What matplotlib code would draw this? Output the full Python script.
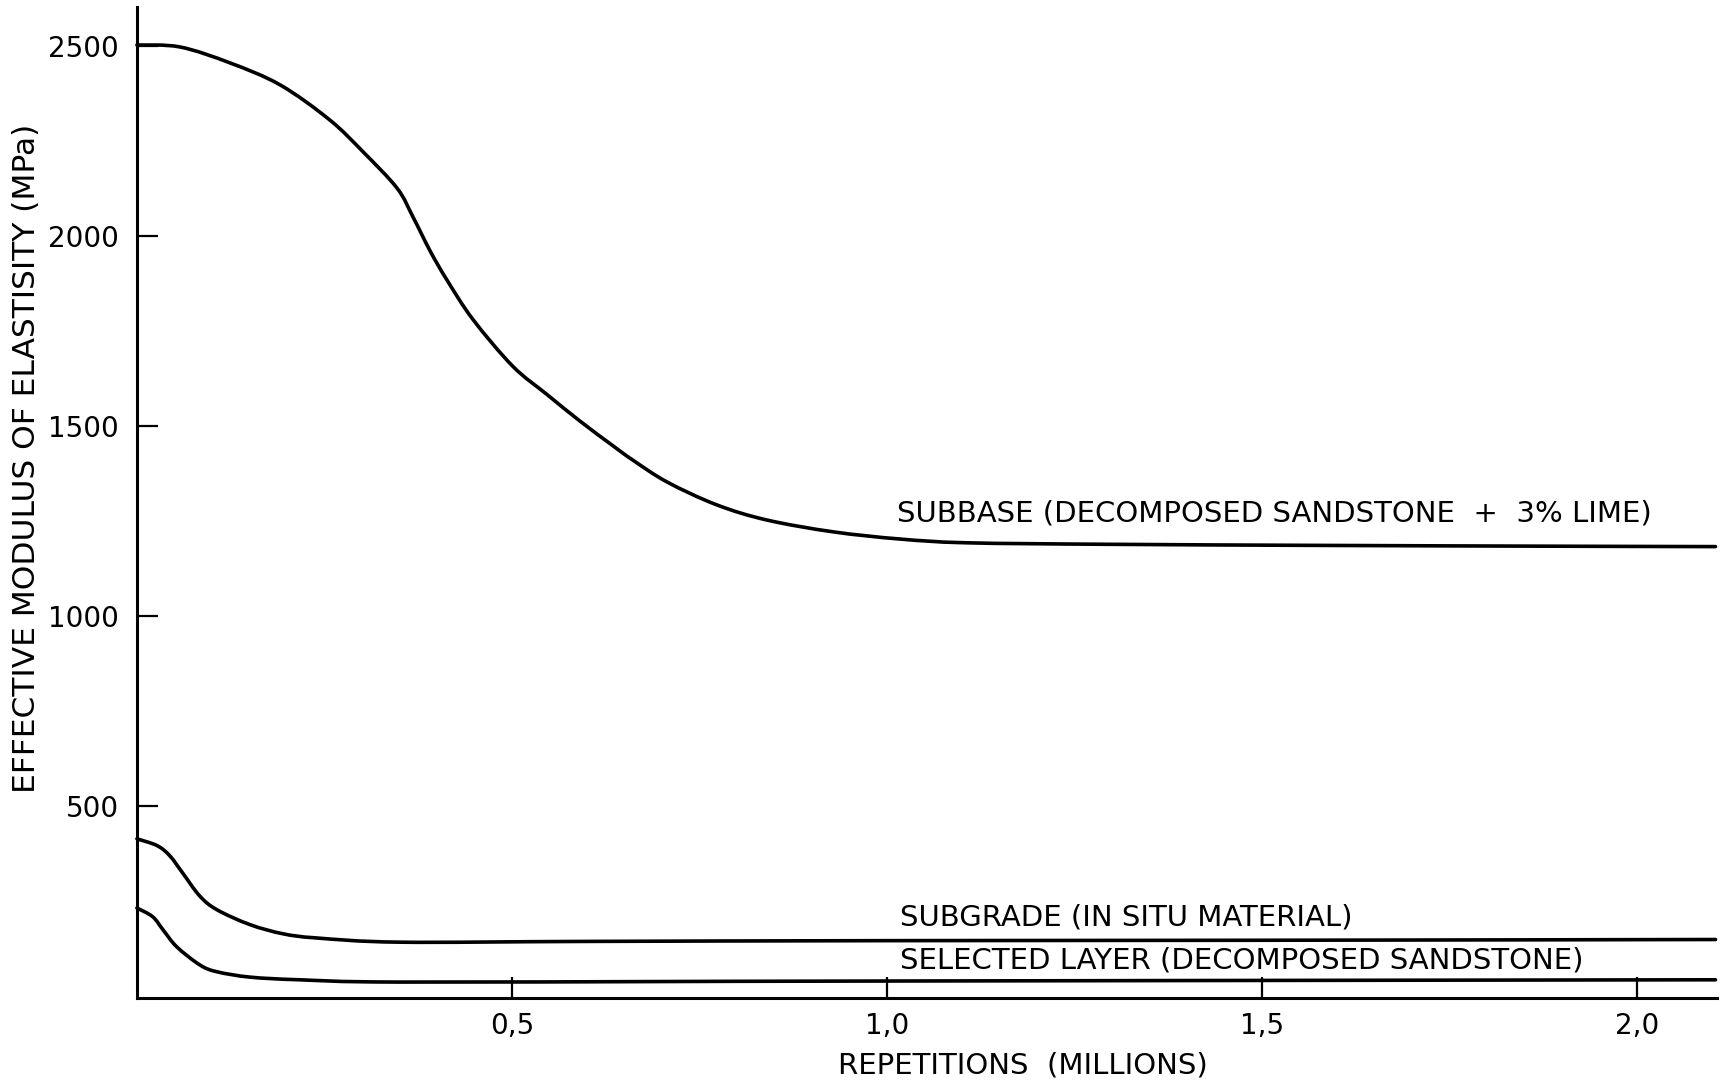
import matplotlib
matplotlib.use("Agg")
import matplotlib.pyplot as plt
import numpy as np
from matplotlib.path import Path
from matplotlib.patches import PathPatch

# Repetitions (millions) and effective modulus (MPa) for each pavement layer
subbase_x = [0.0, 0.057, 0.124, 0.191, 0.257, 0.302, 0.347, 0.368, 0.391, 0.413,
             0.448, 0.501, 0.547, 0.591, 0.635, 0.661, 0.707, 0.773, 0.840, 0.928,
             1.017, 1.107, 1.30, 1.60, 1.90, 2.105]
subbase_e = [2502, 2497, 2455, 2397, 2305, 2220, 2125, 2050, 1960, 1885,
             1780, 1657, 1582, 1512, 1447, 1410, 1352, 1292, 1252, 1221,
             1202, 1192, 1188, 1185, 1183, 1182]

subgrade_x = [0.0, 0.027, 0.044, 0.061, 0.084, 0.107, 0.151, 0.195, 0.24, 0.35,
              0.6, 1.0, 1.5, 2.105]
subgrade_e = [413, 395, 368, 323, 262, 226, 187, 163, 152, 141,
              143, 145, 146, 148]

selected_x = [0.0, 0.021, 0.035, 0.053, 0.084, 0.107, 0.151, 0.217, 0.35,
              0.8, 1.4, 2.105]
selected_e = [231, 208, 173, 129, 81, 63, 49, 42, 36, 38, 40, 42]

x_ticks = [0.5, 1.0, 1.5, 2.0]
x_tick_labels = ["0,5", "1,0", "1,5", "2,0"]
y_ticks = [500, 1000, 1500, 2000, 2500]
y_tick_labels = ["500", "1000", "1500", "2000", "2500"]

label_subbase = "SUBBASE (DECOMPOSED SANDSTONE  +  3% LIME)"
label_subgrade = "SUBGRADE (IN SITU MATERIAL)"
label_selected = "SELECTED LAYER (DECOMPOSED SANDSTONE)"

plt.rcParams["font.family"] = ["DejaVu Sans"]


def smooth_path(xs, ys):
    """Catmull-Rom curve through the points, expressed as cubic Bezier segments."""
    p = np.column_stack([xs, ys]).astype(float)
    ext = np.vstack([p[0], p, p[-1]])
    verts = [tuple(p[0])]
    codes = [Path.MOVETO]
    for i in range(1, len(ext) - 2):
        p0, p1, p2, p3 = ext[i - 1], ext[i], ext[i + 1], ext[i + 2]
        c1 = p1 + (p2 - p0) / 6.0
        c2 = p2 - (p3 - p1) / 6.0
        verts += [tuple(c1), tuple(c2), tuple(p2)]
        codes += [Path.CURVE4] * 3
    return Path(verts, codes)


fig = plt.figure(figsize=(17.31, 10.80), dpi=100)
ax = fig.add_axes([0.0791, 0.0759, 0.9128, 0.9176])

for xs, ys in ((subbase_x, subbase_e), (subgrade_x, subgrade_e), (selected_x, selected_e)):
    ax.add_patch(PathPatch(smooth_path(xs, ys), facecolor="none", edgecolor="black",
                           linewidth=2.6, capstyle="round", joinstyle="round",
                           clip_on=False))

ax.set_xlim(0, 2.107)
ax.set_ylim(-6, 2602)

for side in ("top", "right"):
    ax.spines[side].set_visible(False)
for side in ("left", "bottom"):
    ax.spines[side].set_linewidth(2.2)

ax.set_xticks(x_ticks)
ax.set_xticklabels(x_tick_labels)
ax.set_yticks(y_ticks)
ax.set_yticklabels(y_tick_labels)
ax.tick_params(axis="both", direction="in", length=15, width=1.6,
               labelsize=20, colors="black")
ax.tick_params(axis="x", pad=10)
ax.tick_params(axis="y", pad=13)

ax.set_xlabel("REPETITIONS  (MILLIONS)", fontsize=21, va="center")
ax.xaxis.set_label_coords(0.561, -0.0676)
ax.set_ylabel("EFFECTIVE MODULUS OF ELASTISITY (MPa)", fontsize=22.5, va="center")
ax.yaxis.set_label_coords(-0.0696, 0.545)

ax.text(1.013, 1270, label_subbase, fontsize=21, ha="left", va="center")
ax.text(1.017, 207, label_subgrade, fontsize=21, ha="left", va="center")
ax.text(1.017, 92, label_selected, fontsize=21, ha="left", va="center")

fig.savefig("out.png", dpi=100, facecolor="white")
